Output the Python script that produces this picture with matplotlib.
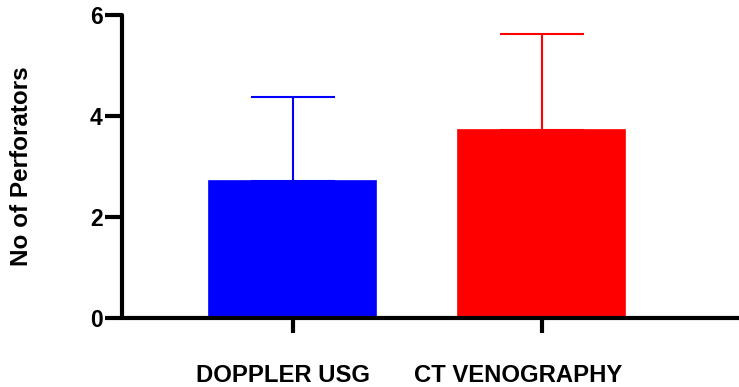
import matplotlib.pyplot as plt
import matplotlib.transforms as mtransforms

plt.rcParams['font.family'] = ['Liberation Sans', 'DejaVu Sans']

# data
methods = ['DOPPLER USG', 'CT VENOGRAPHY']
mean_perforators = [2.72, 3.72]
sd_perforators = [1.65, 1.90]
bar_colors = ['#0000ff', '#ff0000']

fig = plt.figure(figsize=(7.39, 3.87), dpi=100)
ax = fig.add_axes([0.165, 0.178, 0.835, 0.783])

x = range(len(methods))
ax.bar(x, mean_perforators, width=0.67, color=bar_colors,
       edgecolor=bar_colors, linewidth=1.2, zorder=2)

# upper error bars only
for xi, m, s, c in zip(x, mean_perforators, sd_perforators, bar_colors):
    ax.errorbar(xi, m, yerr=[[0], [s]], color=c, elinewidth=1.5,
                capsize=30, capthick=1.5, zorder=1)

ax.set_xlim(-0.686, 1.792)
ax.set_ylim(0, 6)
ax.set_yticks([0, 2, 4, 6])
ax.set_xticks(list(x))
ax.set_xticklabels(methods, fontsize=17.2, fontweight='bold')
ax.set_ylabel('No of Perforators', fontsize=17.5, fontweight='bold')
ax.yaxis.set_label_coords(22 / 739, 0.5, transform=fig.transFigure)
ax.yaxis.label.set_va('center')
ax.yaxis.label.set_position((22 / 739, (387 - 166) / 387))

for lbl in ax.get_yticklabels():
    lbl.set_fontweight('bold')
    lbl.set_fontsize(16.5)

ax.spines['top'].set_visible(False)
ax.spines['right'].set_visible(False)
ax.spines['left'].set_linewidth(3)
ax.spines['bottom'].set_linewidth(3)
ax.spines['left'].set_capstyle('round')
ax.spines['bottom'].set_capstyle('round')
ax.tick_params(axis='y', length=12, width=3, pad=2)
ax.tick_params(axis='x', length=11, width=3, pad=22)

# shift x labels a little left, as in the original
shifts = [-10, -24]
for lbl, dx in zip(ax.get_xticklabels(), shifts):
    lbl.set_transform(lbl.get_transform() +
                      mtransforms.ScaledTranslation(dx / 100, 0, fig.dpi_scale_trans))

fig.savefig('out.png', dpi=100)
